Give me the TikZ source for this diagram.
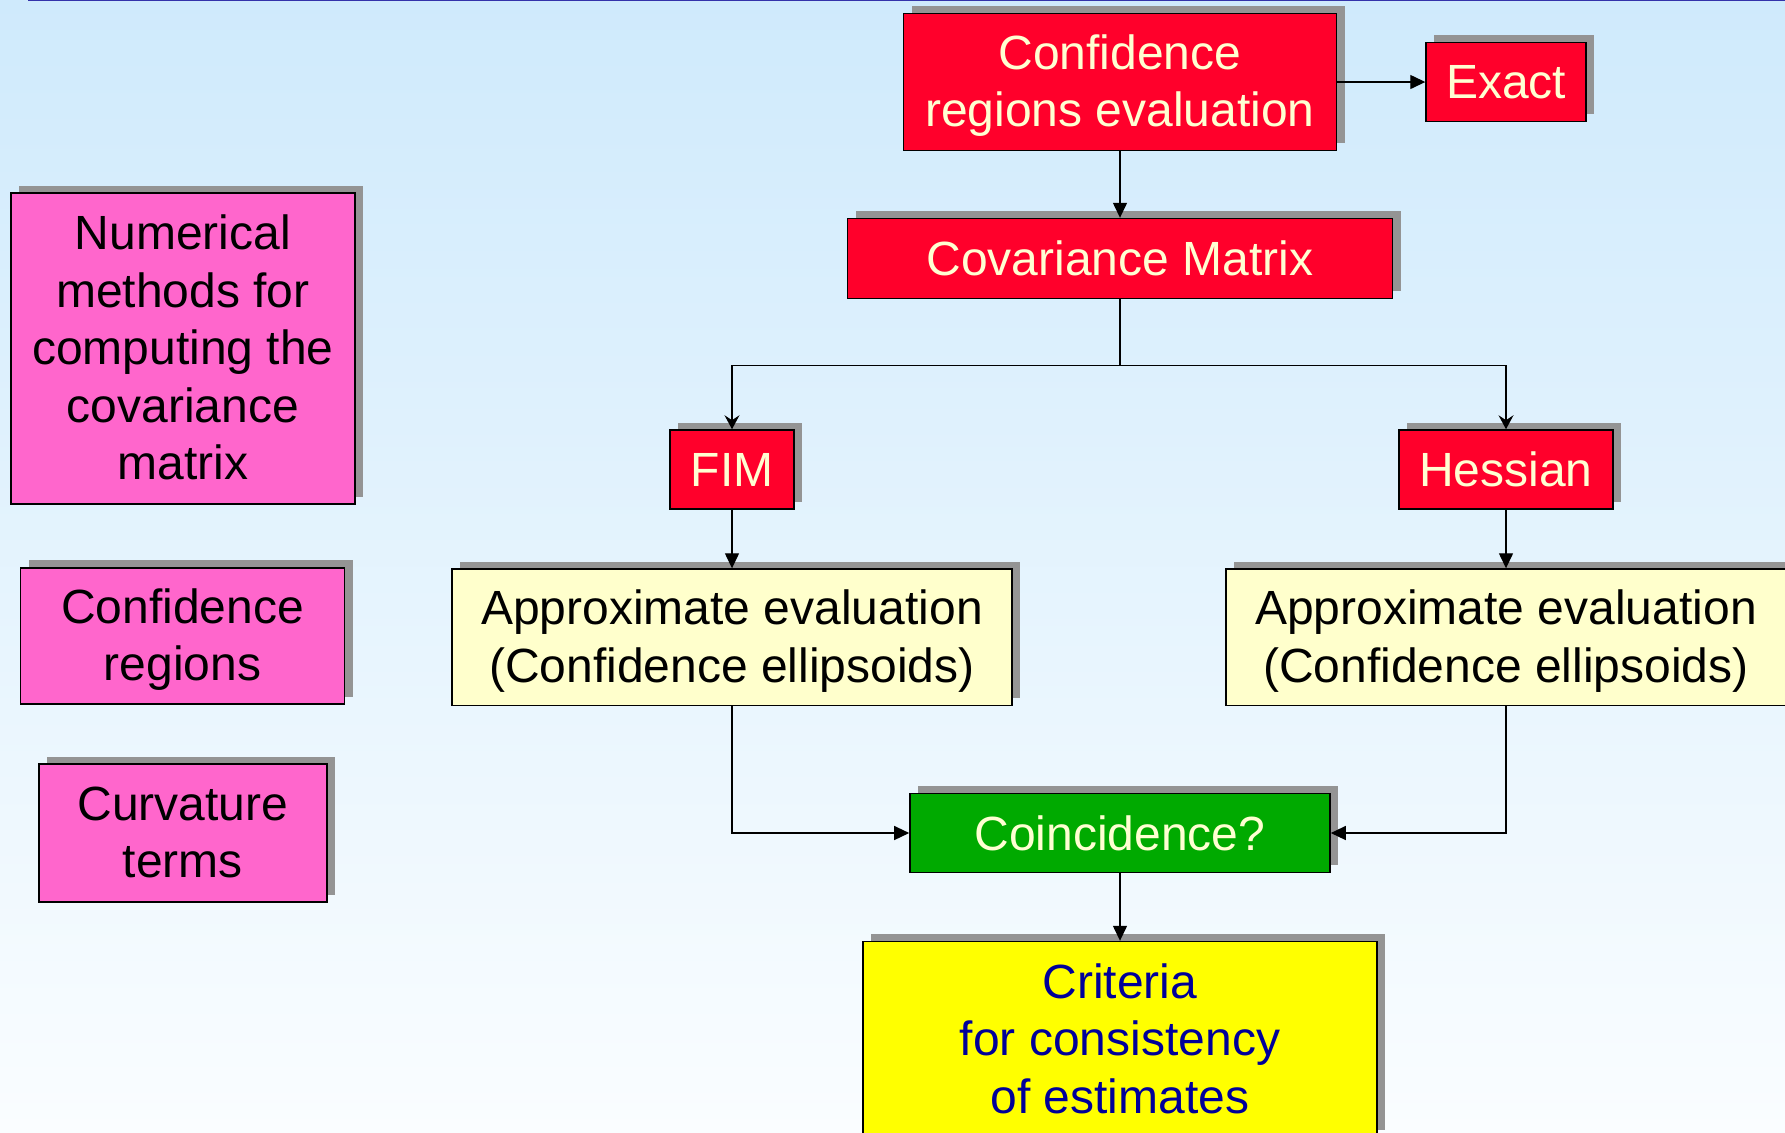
\documentclass[tikz,border=0pt]{standalone}
\usepackage{fontspec}
\setmainfont{Liberation Sans}
\usepackage{xcolor}
\usetikzlibrary{positioning,shadows,arrows.meta}

\definecolor{bgtop}{RGB}{207,234,252}
\definecolor{bgbot}{RGB}{250,253,255}
\definecolor{topline}{RGB}{51,51,170}
\definecolor{boxred}{RGB}{255,0,43}
\definecolor{boxpink}{RGB}{255,102,204}
\definecolor{boxpale}{RGB}{255,255,204}
\definecolor{boxgreen}{RGB}{0,170,0}
\definecolor{boxyellow}{RGB}{255,255,0}
\definecolor{cream}{RGB}{255,255,210}
\definecolor{navy}{RGB}{0,0,153}
\definecolor{shadowgray}{RGB}{148,148,148}

% even line height for multi-line boxes
\newcommand{\padstrut}{\rule[-5.7pt]{0pt}{27.5pt}}

\begin{document}
\begin{tikzpicture}[x=1pt, y=1pt,
    basebox/.style={rectangle, draw=black, line width=0.8pt, inner sep=0pt, align=center, font=\fontsize{24}{28.8}\selectfont, general shadow={fill=shadowgray, shadow xshift=4pt, shadow yshift=3.75pt}},
    stagebox/.style={basebox, fill=boxred, text=cream, minimum height=39.5pt},
    sidebox/.style={basebox, fill=boxpink, text=black},
    approxbox/.style={basebox, fill=boxpale, text=black, minimum width=280pt, minimum height=68.25pt},
    testbox/.style={basebox, fill=boxgreen, text=cream, minimum width=210pt, minimum height=39.5pt},
    resultbox/.style={basebox, fill=boxyellow, text=navy, minimum width=257pt, minimum height=98pt},
    link/.style={->, >={Triangle[length=7.5pt,width=7pt]}, line width=0.65pt},
    splitlink/.style={->, >={Stealth[length=7pt,width=7.5pt,inset=2.5pt]}, line width=0.65pt}]

    \useasboundingbox (0,0) rectangle (892.5,-566);
    \clip (0,0) rectangle (892.5,-566);
    \shade [top color=bgtop, bottom color=bgbot] (0,0) rectangle (892.5,-566);
    \draw [topline, line width=0.9pt] (14,-0.2) -- (892.5,-0.2);

    % main chain
    \node [stagebox, minimum width=216.5pt, minimum height=68.5pt] (conf) at (560,-41) {\padstrut Confidence\\regions evaluation\padstrut};
    \node [stagebox, minimum width=80pt, right=44pt of conf] (exact) {Exact};
    \node [stagebox, minimum width=272.5pt, minimum height=40pt, below=33.25pt of conf] (cov) {Covariance Matrix};
    \node [stagebox, minimum width=62pt] (fim) at (366,-234.75) {FIM};
    \node [stagebox, minimum width=107pt] (hess) at (753,-234.75) {Hessian};
    \node [approxbox, below=29.25pt of fim] (approxl) {\padstrut Approximate evaluation\\(Confidence ellipsoids)\padstrut};
    \node [approxbox, below=29.25pt of hess] (approxr) {\padstrut Approximate evaluation\\(Confidence ellipsoids)\padstrut};
    \node [testbox] (coinc) at (560,-416.5) {Coincidence?};
    \node [resultbox, below=33.75pt of coinc] (crit) {\padstrut Criteria\\for consistency\\of estimates\padstrut};

    % side notes
    \node [sidebox, minimum width=172pt, minimum height=155.5pt] (nummeth) at (91.5,-174.25) {\padstrut Numerical\\methods for\\computing the\\covariance\\matrix\padstrut};
    \node [sidebox, minimum width=162pt, minimum height=68.25pt] (confreg) at (91.25,-318) {\padstrut Confidence\\regions\padstrut};
    \node [sidebox, minimum width=144pt, minimum height=69pt] (curv) at (91.4,-416.5) {\padstrut Curvature\\terms\padstrut};

    \coordinate [below=33pt of cov] (split);

    \draw [link] (conf) -- (exact);
    \draw [link] (conf) -- (cov);
    \draw [line width=0.65pt] (cov) -- (split);
    \draw [splitlink] (split) -| (fim);
    \draw [splitlink] (split) -| (hess);
    \draw [link] (fim) -- (approxl);
    \draw [link] (hess) -- (approxr);
    \draw [link] (approxl) |- (coinc);
    \draw [link] (approxr) |- (coinc);
    \draw [link] (coinc) -- (crit);
\end{tikzpicture}
\end{document}
